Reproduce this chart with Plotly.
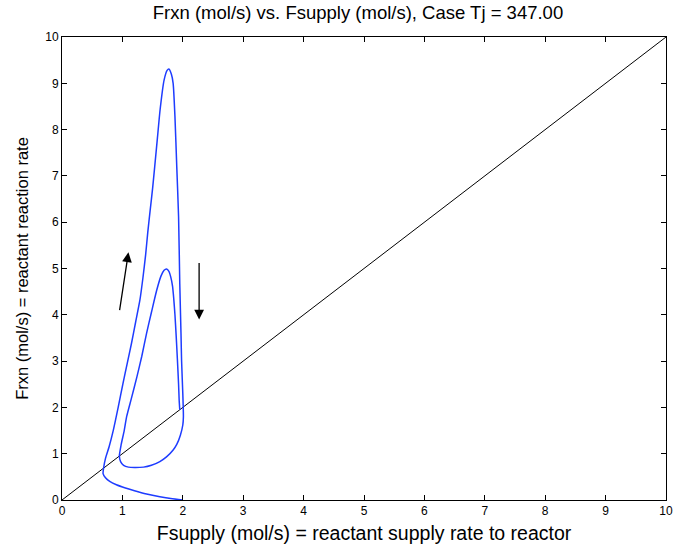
import plotly.graph_objects as go

# Reactor trajectory in the (Fsupply, Frxn) plane, mol/s
fsupply = [2.00, 1.80, 1.62, 1.40, 1.20, 1.05, 0.90, 0.79, 0.72, 0.68,
           0.69, 0.72, 0.78, 0.85, 0.93, 1.01, 1.08, 1.15, 1.22, 1.29,
           1.34, 1.385, 1.42, 1.46, 1.50, 1.535, 1.58, 1.625, 1.69, 1.74,
           1.77, 1.81, 1.84, 1.87, 1.90, 1.93, 1.95, 1.97, 1.98, 2.00,
           2.01, 2.00, 1.96, 1.90, 1.84, 1.73, 1.62, 1.48, 1.35, 1.20,
           1.10, 1.02, 0.97, 0.95, 0.98, 1.03, 1.07, 1.15, 1.24, 1.32,
           1.40, 1.48, 1.57, 1.64, 1.69, 1.73, 1.77, 1.80, 1.83, 1.85,
           1.87, 1.89, 1.91, 1.93, 1.94, 1.95]
frxn = [0.00, 0.03, 0.07, 0.13, 0.20, 0.26, 0.33, 0.40, 0.48, 0.57,
        0.70, 0.90, 1.15, 1.51, 2.00, 2.52, 2.95, 3.38, 3.85, 4.32,
        4.80, 5.30, 5.78, 6.26, 6.73, 7.20, 7.82, 8.44, 9.07, 9.28,
        9.31, 9.20, 9.00, 8.28, 7.20, 6.12, 4.67, 3.60, 3.00, 2.30,
        1.80, 1.62, 1.40, 1.20, 1.08, 0.93, 0.83, 0.75, 0.71, 0.70,
        0.71, 0.75, 0.83, 0.95, 1.20, 1.50, 1.80, 2.20, 2.66, 3.10,
        3.60, 4.05, 4.54, 4.84, 4.96, 4.99, 4.94, 4.82, 4.62, 4.35,
        4.00, 3.55, 3.05, 2.50, 2.15, 1.95]

# Steady-state line Frxn = Fsupply
diag = [0, 10]

tick_vals = list(range(0, 11))
tick_text = [str(v) for v in tick_vals]

fig = go.Figure()
fig.add_trace(go.Scatter(x=diag, y=diag, mode="lines",
                         line=dict(color="black", width=1), hoverinfo="skip"))
fig.add_trace(go.Scatter(x=fsupply, y=frxn, mode="lines",
                         line=dict(color="rgb(30,60,255)", width=1.5,
                                   shape="spline", smoothing=0.6)))

# Direction-of-travel arrows (tail -> tip)
arrows = [((0.95, 4.07), (1.10, 5.35)),
          ((2.27, 5.15), (2.27, 3.90))]
for (tx, ty), (hx, hy) in arrows:
    fig.add_annotation(x=hx, y=hy, ax=tx, ay=ty, xref="x", yref="y",
                       axref="x", ayref="y", text="", showarrow=True,
                       arrowhead=2, arrowsize=1.5, arrowwidth=1.3,
                       arrowcolor="black")

axis_common = dict(range=[0, 10], tickvals=tick_vals, ticktext=tick_text,
                   ticks="inside", ticklen=5, tickcolor="black",
                   showline=True, linecolor="black", linewidth=1,
                   mirror="ticks", showgrid=False, zeroline=False,
                   automargin=False,
                   tickfont=dict(family="Liberation Sans Narrow, Arial Narrow, Liberation Sans",
                                 size=12, color="black"))

fig.update_layout(
    width=680, height=554,
    margin=dict(l=62, r=14, t=37, b=54),
    paper_bgcolor="white", plot_bgcolor="white",
    showlegend=False,
    title=dict(text="Frxn (mol/s) vs. Fsupply (mol/s), Case Tj = 347.00",
               x=358 / 680, xanchor="center", y=1 - 13 / 554, yanchor="middle",
               font=dict(family="Liberation Sans, Arial", size=18.5, color="black")),
    xaxis=dict(axis_common,
               title=dict(text="Fsupply (mol/s) = reactant supply rate to reactor",
                          font=dict(family="Liberation Sans, Arial", size=19.5, color="black"),
                          standoff=8)),
    yaxis=dict(axis_common,
               title=dict(text="Frxn (mol/s) = reactant reaction rate",
                          font=dict(family="Liberation Sans, Arial", size=16.5, color="black"),
                          standoff=12)),
)

fig.write_html("out.html")
